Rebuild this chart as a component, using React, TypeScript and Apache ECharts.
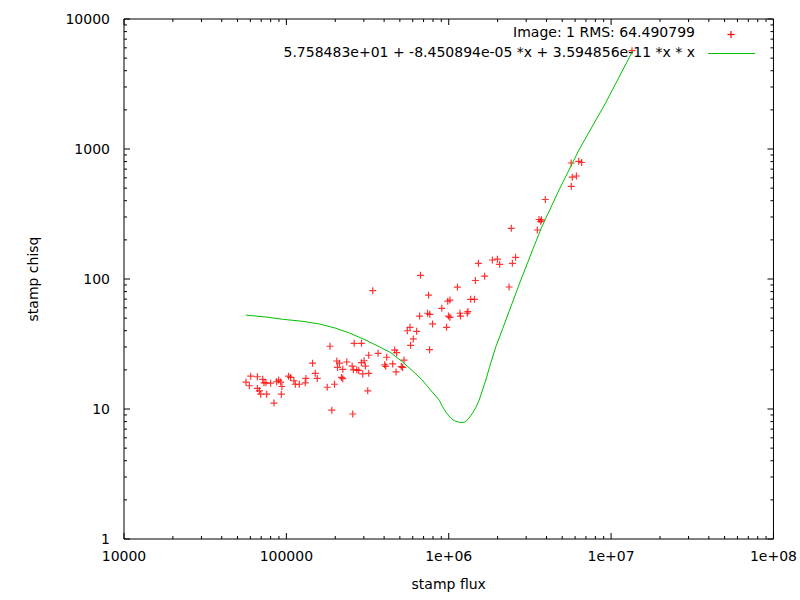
import { useEffect, useRef } from "react";
import * as echarts from "echarts";

// measured points (stamp flux, stamp chisq)
const stampFlux = [
  56400, 59200, 60300, 66300, 71500, 72800, 74900, 80000, 66300, 68200,
  69500, 75600, 83900, 87100, 89600, 92200, 93900, 93100, 103200, 106200,
  111300, 113500, 120200, 131900, 130700, 145000, 150600, 155000, 178500, 198000,
  190500, 185700, 256400, 317000, 261600, 290000, 204500, 212400, 235500, 206500,
  222600, 254200, 258900, 271300, 279100, 290000, 301300, 306900, 295400, 321600,
  321600, 367300, 414800, 403200, 409000, 451600, 464500, 477800, 530500, 510600,
  473800, 520100, 218600, 222600, 340300, 555900, 577500, 634300, 605000, 582400,
  762100, 661600, 670000, 751500, 740900, 764400, 795300, 906000, 969400, 986000,
  1017000, 997000, 1017000, 1131000, 1172000, 1182000, 1312000, 1299000, 1365000, 1440000,
  1459000, 1524000, 1664000, 1858000, 1994000, 2058000, 2353000, 2428000, 2466000, 2580000,
  3513000, 3598000, 3686000, 3727000, 3934000, 5683000, 5765000, 6117000, 5675000, 6320000,
  6580000, 13450000,
];
const stampChisq = [
  16.1, 15.1, 17.9, 17.7, 16.9, 15.9, 15.9, 15.8, 14.4, 13.8,
  13.0, 13.0, 11.1, 16.2, 16.7, 16.1, 14.9, 13.0, 17.9, 17.5,
  16.5, 15.5, 15.5, 17.2, 15.9, 22.5, 18.8, 17.2, 14.7, 15.5,
  9.8, 30.4, 9.15, 13.8, 32.0, 32.0, 23.4, 22.5, 23.0, 20.9,
  20.2, 21.4, 20.0, 20.0, 19.8, 22.7, 23.5, 21.4, 18.6, 18.8,
  25.9, 26.8, 25.0, 21.9, 21.3, 22.2, 28.4, 27.1, 23.8, 21.2,
  19.3, 20.9, 17.5, 17.1, 81.3, 40.0, 42.5, 39.6, 34.6, 30.9,
  28.6, 51.9, 106.8, 75.1, 54.5, 53.5, 45.1, 59.5, 42.5, 67.4,
  68.9, 51.9, 50.7, 86.5, 54.5, 51.9, 56.2, 54.5, 69.8, 69.8,
  97.4, 132.1, 105.1, 140.0, 142.0, 129.7, 86.8, 245.5, 132.1, 146.9,
  238.2, 286.9, 277.8, 285.4, 408.9, 516.6, 606.9, 620.0, 780.3, 804.2,
  787.3, 5704,
];

// fitted curve
const fitFlux = [
  56200, 75000, 94800, 125000, 160000, 200000, 245000, 300000, 374000, 440000,
  518000, 600000, 687000, 780000, 874000, 916000, 970000, 1032000, 1090000, 1160000,
  1220000, 1270000, 1330000, 1400000, 1470000, 1540000, 1614000, 1700000, 1780000, 1950000,
  2150000, 2350000, 2830000, 3300000, 3750000, 4780000, 6340000, 9250000, 13600000,
];
const fitChisq = [
  52.8, 51.0, 49.0, 47.3, 45.1, 41.9, 38.4, 34.4, 30.1, 27.1,
  23.1, 19.6, 16.7, 13.8, 11.7, 10.4, 9.3, 8.48, 8.1, 7.9,
  7.85, 7.98, 8.5, 9.27, 10.3, 11.7, 14.0, 17.0, 20.9, 30.1,
  41.5, 56.0, 104, 170, 253, 484, 983, 2260, 5700,
];

const xDecades = [1e4, 1e5, 1e6, 1e7, 1e8];
const yDecades = [1, 10, 100, 1000, 10000];
const minorSteps = [2, 3, 4, 5, 6, 7, 8, 9];

const legendPoints = "Image: 1 RMS: 64.490799";
const legendFit = "5.758483e+01 + -8.450894e-05 *x + 3.594856e-11 *x * x";

const FONT = "DejaVu Sans";
const plusPath = "path://M2.9,0H4.1V2.9H7V4.1H4.1V7H2.9V4.1H0V2.9H2.9Z";

function tickList(decades: number[]) {
  const out: [number, number][] = [];
  decades.forEach((d, i) => {
    out.push([d, 1]);
    if (i < decades.length - 1) minorSteps.forEach((m) => out.push([d * m, 0]));
  });
  return out;
}

const logLabel = (v: number) => {
  const e = Math.round(Math.log10(v));
  if (e >= 6) return "1e+" + String(e).padStart(2, "0");
  return String(Math.pow(10, e));
};

export default function App() {
  const chartRef = useRef<HTMLDivElement>(null);

  useEffect(() => {
    document.body.style.margin = "0";
    if (!chartRef.current) return;
    const chart = echarts.init(chartRef.current, undefined, { renderer: "svg" });

    const tickStyle = { stroke: "#000", lineWidth: 1 };

    chart.setOption({
      animation: false,
      backgroundColor: "#fff",
      grid: {
        left: 124,
        right: 25,
        top: 19,
        bottom: 61,
        show: true,
        borderColor: "#000",
        borderWidth: 1,
        backgroundColor: "transparent",
      },
      xAxis: {
        type: "log",
        logBase: 10,
        min: 1e4,
        max: 1e8,
        axisLine: { show: false },
        axisTick: { show: false },
        splitLine: { show: false },
        axisLabel: {
          formatter: logLabel,
          fontFamily: FONT,
          fontSize: 14,
          color: "#000",
          margin: 10,
          showMinLabel: true,
          showMaxLabel: true,
        },
        name: "stamp flux",
        nameLocation: "middle",
        nameGap: 38,
        nameTextStyle: { fontFamily: FONT, fontSize: 14, color: "#000" },
      },
      yAxis: {
        type: "log",
        logBase: 10,
        min: 1,
        max: 10000,
        axisLine: { show: false },
        axisTick: { show: false },
        splitLine: { show: false },
        axisLabel: {
          formatter: logLabel,
          fontFamily: FONT,
          fontSize: 14,
          color: "#000",
          margin: 14,
          showMinLabel: true,
          showMaxLabel: true,
        },
        name: "stamp chisq",
        nameLocation: "middle",
        nameGap: 84,
        nameTextStyle: { fontFamily: FONT, fontSize: 14, color: "#000" },
      },
      graphic: [
        {
          type: "text",
          x: 695,
          y: 32,
          style: {
            text: legendPoints,
            font: `14px "${FONT}"`,
            fill: "#000",
            textAlign: "right",
            textVerticalAlign: "middle",
            align: "right",
            verticalAlign: "middle",
          },
        },
        { type: "line", shape: { x1: 727.5, y1: 34.5, x2: 734.5, y2: 34.5 }, style: { stroke: "#ff0000", lineWidth: 1.2 } },
        { type: "line", shape: { x1: 731, y1: 31, x2: 731, y2: 38 }, style: { stroke: "#ff0000", lineWidth: 1.2 } },
        {
          type: "text",
          x: 695,
          y: 52,
          style: {
            text: legendFit,
            font: `14px "${FONT}"`,
            fill: "#000",
            textAlign: "right",
            textVerticalAlign: "middle",
            align: "right",
            verticalAlign: "middle",
          },
        },
        { type: "line", shape: { x1: 708, y1: 53.5, x2: 755, y2: 53.5 }, style: { stroke: "#00c000", lineWidth: 1 } },
      ],
      series: [
        {
          name: legendPoints,
          type: "scatter",
          symbol: plusPath,
          symbolSize: 7,
          itemStyle: { color: "#ff0000" },
          data: stampFlux.map((x, i) => [x, stampChisq[i]]),
          silent: true,
        },
        {
          name: legendFit,
          type: "line",
          showSymbol: false,
          symbol: "none",
          lineStyle: { color: "#00c000", width: 1 },
          data: fitFlux.map((x, i) => [x, fitChisq[i]]),
          silent: true,
        },
        {
          type: "custom",
          silent: true,
          z: 5,
          data: tickList(xDecades).map(([v, major]) => [v, 1, major]),
          renderItem: (params: any, api: any) => {
            const cs = params.coordSys;
            const x = api.coord([api.value(0), 1])[0];
            const len = api.value(2) ? 6 : 3;
            const bottom = cs.y + cs.height;
            return {
              type: "group",
              children: [
                { type: "line", shape: { x1: x, y1: bottom, x2: x, y2: bottom - len }, style: tickStyle },
                { type: "line", shape: { x1: x, y1: cs.y, x2: x, y2: cs.y + len }, style: tickStyle },
              ],
            };
          },
        },
        {
          type: "custom",
          silent: true,
          z: 5,
          data: tickList(yDecades).map(([v, major]) => [1e4, v, major]),
          renderItem: (params: any, api: any) => {
            const cs = params.coordSys;
            const y = api.coord([1e4, api.value(1)])[1];
            const len = api.value(2) ? 6 : 3;
            const right = cs.x + cs.width;
            return {
              type: "group",
              children: [
                { type: "line", shape: { x1: cs.x, y1: y, x2: cs.x + len, y2: y }, style: tickStyle },
                { type: "line", shape: { x1: right, y1: y, x2: right - len, y2: y }, style: tickStyle },
              ],
            };
          },
        },
      ],
    });

    return () => {
      chart.dispose();
    };
  }, []);

  return <div ref={chartRef} style={{ width: 800, height: 600 }}></div>;
}
